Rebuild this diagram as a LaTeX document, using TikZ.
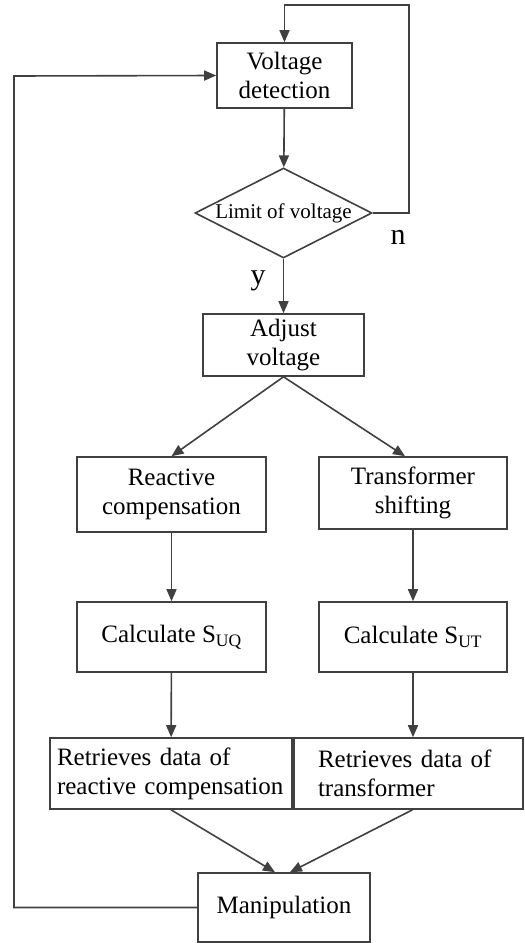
\documentclass[tikz,border=0pt]{standalone}
\usepackage{fontspec}
\setmainfont{Liberation Serif}
\usetikzlibrary{arrows.meta,shapes.geometric}
\begin{document}
\begin{tikzpicture}[x=1pt,y=-1pt,
    box/.style={draw=black!75,line width=1.6pt,align=center,inner sep=2pt,
      font=\fontsize{25}{29}\selectfont},
    leftbox/.style={box,align=left},
    decision/.style={draw=black!75,line width=1.6pt,diamond,aspect=2,inner sep=0pt,
      minimum width=177,minimum height=90,font=\fontsize{21}{25}\selectfont},
    flow/.style={draw=black!75,line width=1.6pt,-{Triangle[length=12pt,width=10pt]}},
    answer/.style={font=\fontsize{30}{30}\selectfont}]
      \useasboundingbox (0,0) rectangle (525,943);
      \draw
        (284.5,75.5) node[box,minimum width=135,minimum height=65] (det){Voltage\\detection}
        (283.5,213) node[decision] (lim){Limit of voltage}
        (283.5,345) node[box,minimum width=161,minimum height=62] (adj){Adjust\\voltage}
        (171.5,494.5) node[box,minimum width=189,minimum height=75] (rc){Reactive\\compensation}
        (413,493) node[box,minimum width=188,minimum height=72] (ts){Transformer\\shifting}
        (171.5,637) node[box,minimum width=189,minimum height=70] (cq){Calculate S\textsubscript{UQ}}
        (413,637) node[box,minimum width=188,minimum height=70] (ct){Calculate S\textsubscript{UT}}
        (171,773.5) node[leftbox,text width=228,inner xsep=7,minimum height=71] (rd){Retrieves data of\\reactive compensation}
        (408.5,773.5) node[leftbox,text width=181,inner xsep=24,minimum height=71] (rt){Retrieves data of\\transformer}
        (284,907.5) node[box,minimum width=172,minimum height=69] (man){Manipulation}
        (398,237) node[answer] (no){n}
        (258,281) node[answer] (yes){y};
      \coordinate (nloop) at (409,5);
      \coordinate (mloop) at (14,76);
      \begin{scope}[flow]
        \draw (det) to (lim);
        \draw (lim.east) -| (nloop) -| (det.north);
        \draw (lim) to (adj);
        \draw (adj.south) to (rc.north);
        \draw (adj.south) to ([xshift=-8]ts.north);
        \draw (rc) to (cq);
        \draw (ts) to (ct);
        \draw (cq) to (rd);
        \draw (ct.south) to (ct.south |- rt.north);
        \draw (rd.south) to ([xshift=-9]man.north);
        \draw ([xshift=4]rt.south) to ([xshift=6]man.north);
        \draw (man.west) -| (mloop) -- (det.west);
      \end{scope}
    \end{tikzpicture}
\end{document}
